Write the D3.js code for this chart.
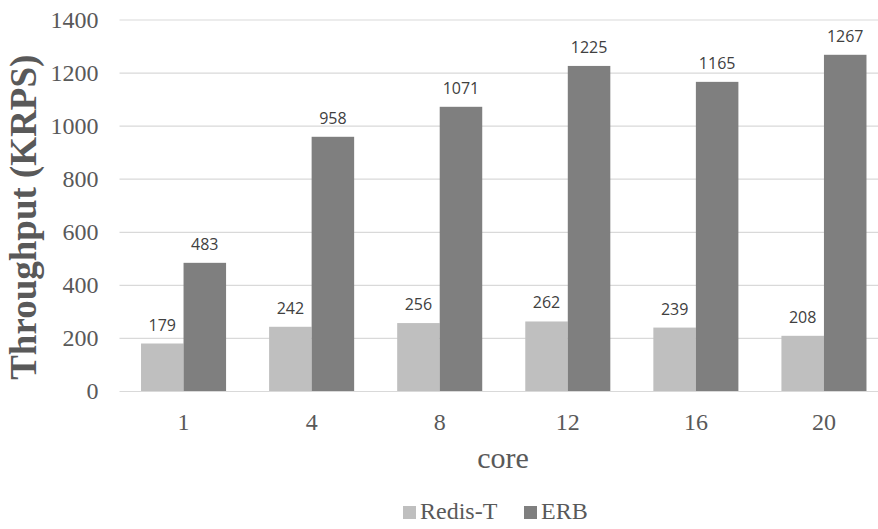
<!DOCTYPE html>
<html>
<head>
<meta charset="utf-8">
<script src="https://cdn.jsdelivr.net/npm/d3@7"></script>
<style>
  html, body { margin: 0; padding: 0; background: #fff; }
  svg { display: block; }
</style>
</head>
<body>
<svg id="chart" width="878" height="529"></svg>
<script>
// Throughput per core count for the two systems
const cores = ["1", "4", "8", "12", "16", "20"];
const seriesNames = ["Redis-T", "ERB"];
const redisT = [179, 242, 256, 262, 239, 208];
const erb = [483, 958, 1071, 1225, 1165, 1267];
const yTicks = [0, 200, 400, 600, 800, 1000, 1200, 1400];
const seriesColors = ["#bfbfbf", "#7f7f7f"];

const svg = d3.select("#chart");
const W = 878, H = 529;
const margin = { left: 119.5, right: -10, top: 19.5, bottom: 138 };
const plotRight = W - margin.right;
const plotBottom = H - margin.bottom;

const x = d3.scaleBand()
  .domain(cores)
  .range([margin.left, plotRight])
  .paddingInner(0.336)
  .paddingOuter(0.168);

const xSub = d3.scaleBand()
  .domain(seriesNames)
  .range([0, x.bandwidth()]);

const y = d3.scaleLinear()
  .domain([0, 1400])
  .range([plotBottom, margin.top]);

const textColor = "#595959";
const serif = "Liberation Serif";

// Horizontal gridlines with value labels
const yAxis = d3.axisLeft(y)
  .tickValues(yTicks)
  .tickSize(-(plotRight - margin.left))
  .tickPadding(21)
  .tickFormat(d3.format("d"));

const gy = svg.append("g")
  .attr("transform", `translate(${margin.left},0)`)
  .call(yAxis);
gy.select(".domain").remove();
gy.attr("font-family", serif).attr("font-size", 24);
gy.selectAll(".tick line").attr("stroke", "#d9d9d9").attr("stroke-width", 1.2);
gy.selectAll(".tick text").attr("fill", textColor);

// Category axis
const xAxis = d3.axisBottom(x).tickSize(0).tickPadding(22);
const gx = svg.append("g")
  .attr("transform", `translate(0,${plotBottom})`)
  .call(xAxis);
gx.select(".domain").remove();
gx.attr("font-family", serif).attr("font-size", 24);
gx.selectAll(".tick text").attr("fill", textColor);

// Bars
const rows = cores.map((c, i) => ({ core: c, values: [redisT[i], erb[i]] }));

const groups = svg.append("g").selectAll("g")
  .data(rows)
  .join("g")
  .attr("transform", d => `translate(${x(d.core)},0)`);

groups.selectAll("rect")
  .data(d => d.values.map((v, k) => ({ name: seriesNames[k], value: v, k })))
  .join("rect")
  .attr("x", d => xSub(d.name))
  .attr("width", xSub.bandwidth())
  .attr("y", d => y(d.value))
  .attr("height", d => y(0) - y(d.value))
  .attr("fill", d => seriesColors[d.k]);

// Value labels above each bar
groups.selectAll("text.val")
  .data(d => d.values.map((v, k) => ({ name: seriesNames[k], value: v })))
  .join("text")
  .attr("class", "val")
  .attr("x", d => xSub(d.name) + xSub.bandwidth() / 2)
  .attr("y", d => y(d.value) - 13)
  .attr("text-anchor", "middle")
  .attr("fill", "#404040")
  .attr("font-family", "Open Sans")
  .attr("font-size", 16)
  .text(d => d.value);

// Axis titles
svg.append("text")
  .attr("transform", `translate(36,${(margin.top + plotBottom) / 2 + 12}) rotate(-90)`)
  .attr("text-anchor", "middle")
  .attr("fill", textColor)
  .attr("font-family", serif)
  .attr("font-weight", "bold")
  .attr("font-size", 37)
  .text("Throughput (KRPS)");

svg.append("text")
  .attr("x", 503)
  .attr("y", 468)
  .attr("text-anchor", "middle")
  .attr("fill", textColor)
  .attr("font-family", serif)
  .attr("font-size", 30)
  .text("core");

// Legend
const legendX = [403, 524];
const legend = svg.append("g").selectAll("g")
  .data(seriesNames)
  .join("g")
  .attr("transform", (d, i) => `translate(${legendX[i]},506)`);
legend.append("rect")
  .attr("width", 13)
  .attr("height", 13)
  .attr("fill", (d, i) => seriesColors[i]);
legend.append("text")
  .attr("x", 17)
  .attr("y", 13)
  .attr("fill", textColor)
  .attr("font-family", serif)
  .attr("font-size", 24)
  .text(d => d);
</script>
</body>
</html>
